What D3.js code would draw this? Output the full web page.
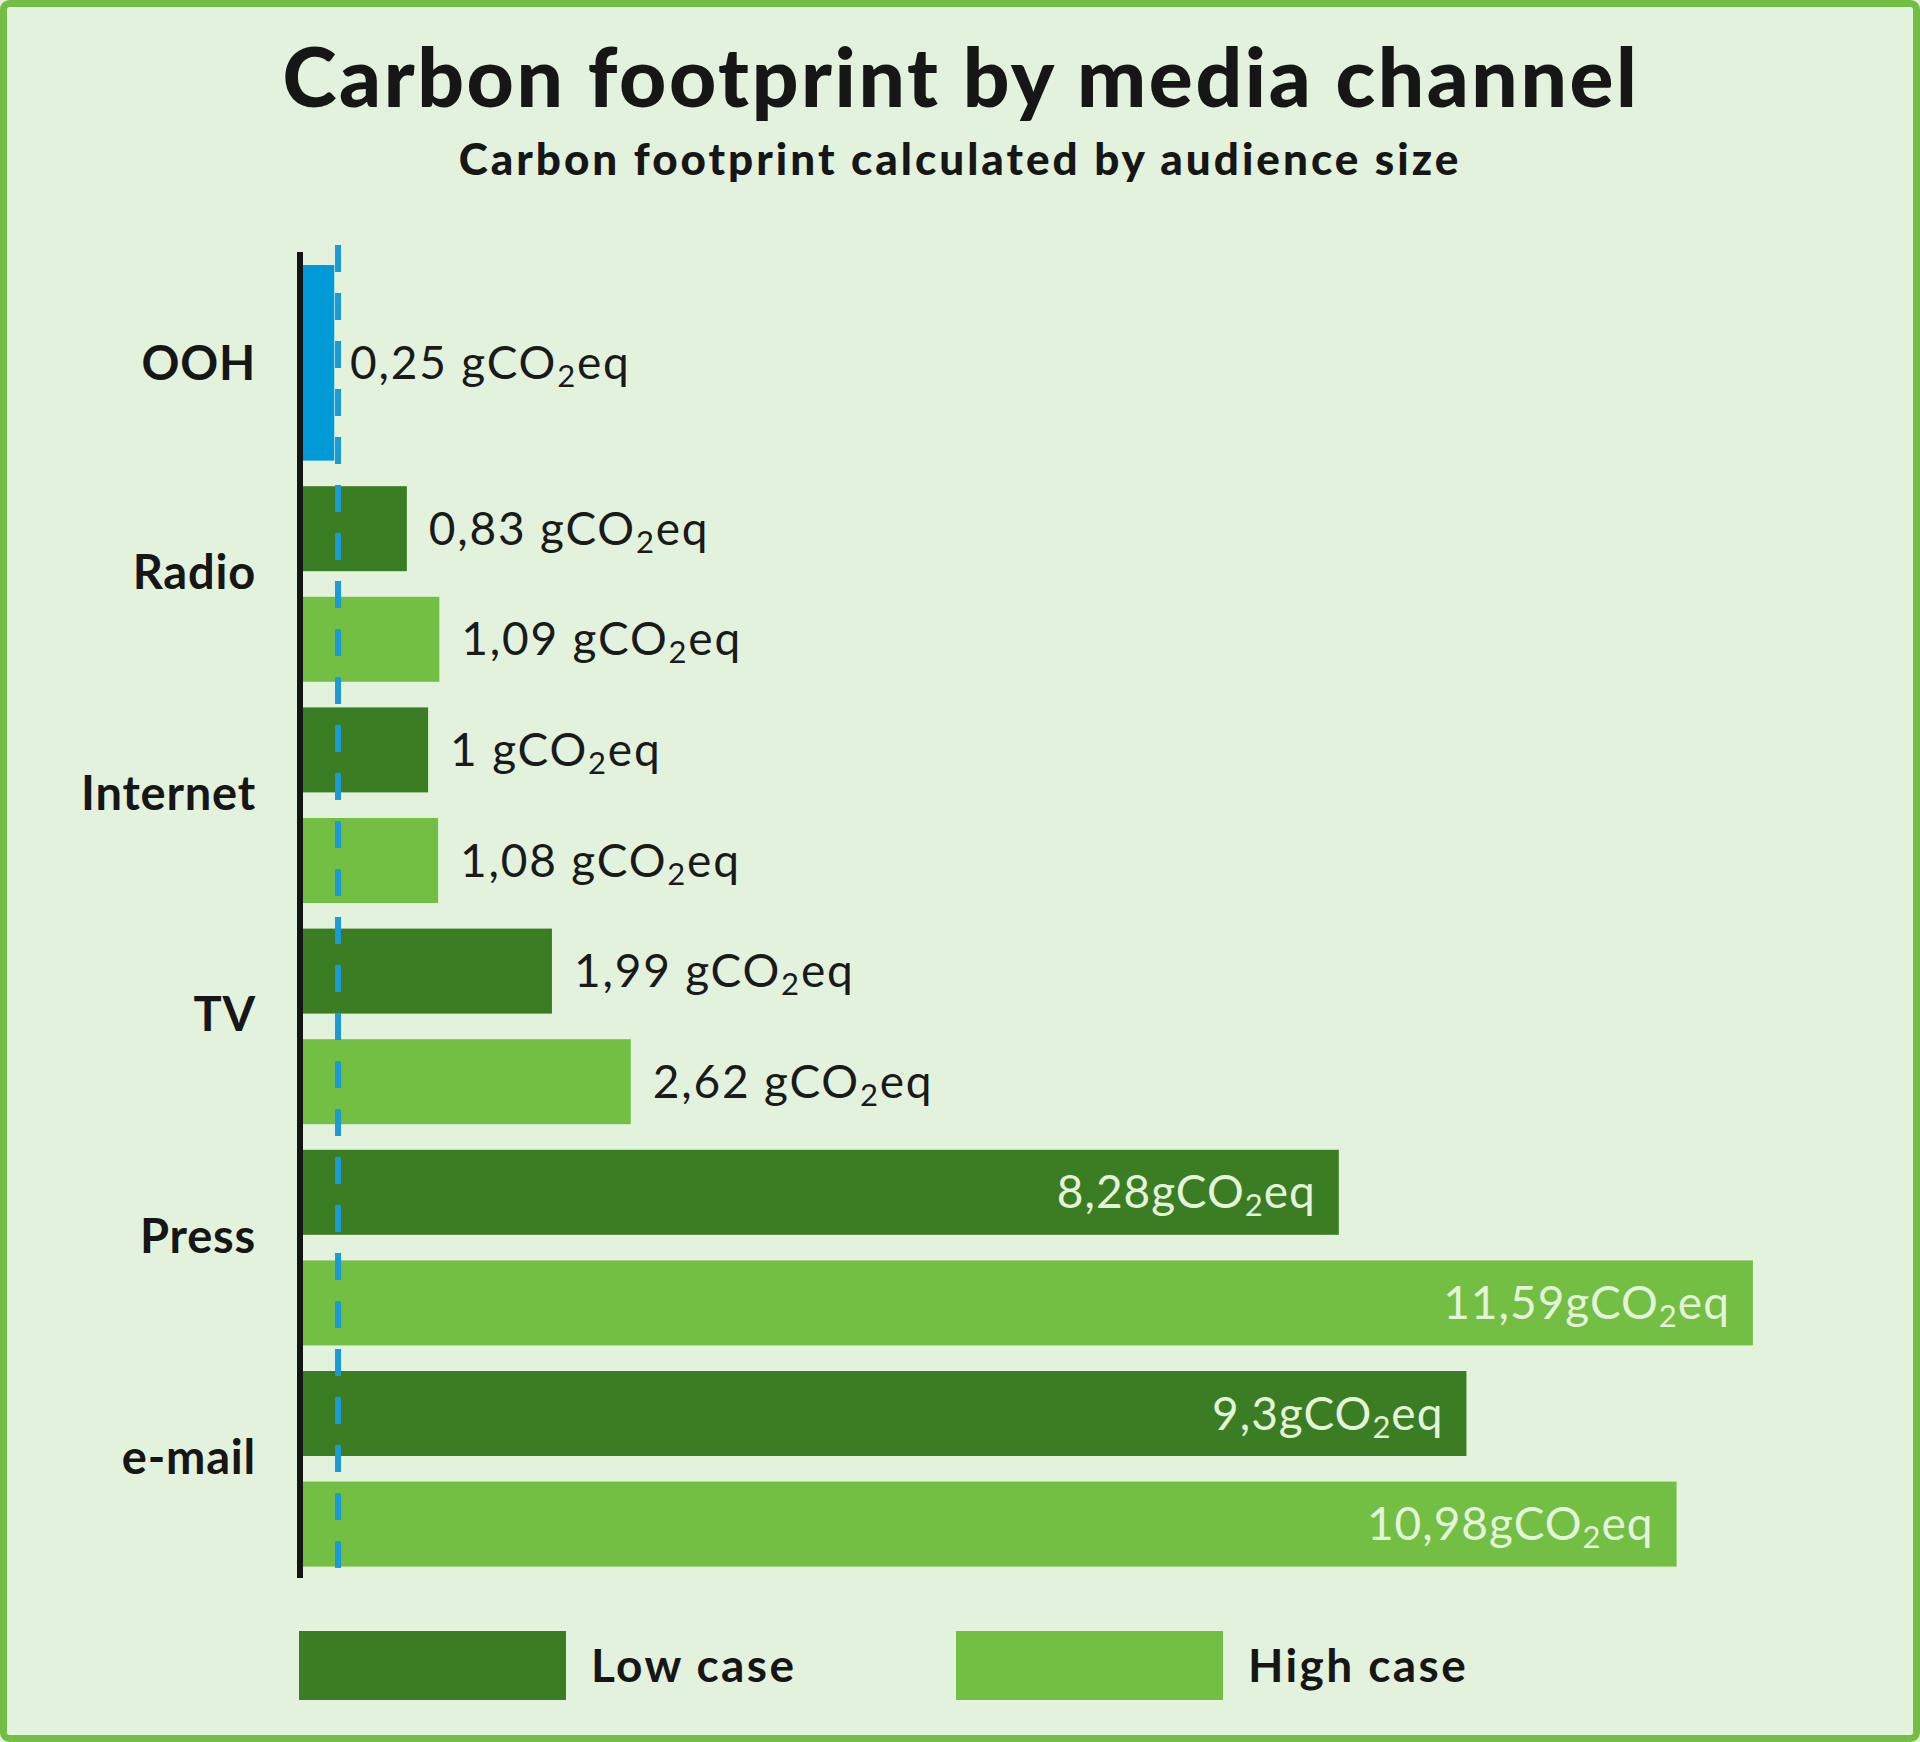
<!DOCTYPE html>
<html>
<head>
<meta charset="utf-8">
<script src="https://cdn.jsdelivr.net/npm/d3@7"></script>
<style>
  html, body { margin: 0; padding: 0; background: #e3f2dc; }
  svg { display: block; font-family: Lato, "Open Sans", sans-serif; }
</style>
</head>
<body>
<svg id="chart" width="1920" height="1742"></svg>
<script>
// channels top to bottom, OOH only has one value
const channels = ['OOH', 'Radio', 'Internet', 'TV', 'Press', 'e-mail'];
const lowCase  = [0.25, 0.83, 1, 1.99, 8.28, 9.3];
const highCase = [null, 1.09, 1.08, 2.62, 11.59, 10.98];
const lowLabels  = ['0,25', '0,83', '1', '1,99', '8,28', '9,3'];
const highLabels = [null, '1,09', '1,08', '2,62', '11,59', '10,98'];
const seriesNames = ['Low case', 'High case'];
const refValue = 0.28; // dashed OOH reference line

const colors = { low: '#3b7d23', high: '#72bf44', ooh: '#009ad8', ref: '#1a9ad6' };

const W = 1920, H = 1742;
const svg = d3.select('#chart');

// background + frame
svg.append('rect')
  .attr('x', 3.5).attr('y', 3.5)
  .attr('width', W - 7).attr('height', H - 7)
  .attr('rx', 6)
  .attr('fill', '#e3f2dc')
  .attr('stroke', '#74be44')
  .attr('stroke-width', 7);

svg.append('text')
  .attr('x', 961).attr('y', 107)
  .attr('text-anchor', 'middle')
  .attr('font-size', 82).attr('font-weight', 900)
  .attr('letter-spacing', 2.6)
  .attr('fill', '#161616')
  .text('Carbon footprint by media channel');

svg.append('text')
  .attr('x', 960).attr('y', 175)
  .attr('text-anchor', 'middle')
  .attr('font-size', 44).attr('font-weight', 900)
  .attr('letter-spacing', 3)
  .attr('fill', '#161616')
  .text('Carbon footprint calculated by audience size');

// scales
const x = d3.scaleLinear().domain([0, 12]).range([303, 303 + 12 * 125.1]);
const y = d3.scaleBand().domain(channels).range([265, 265 + 6 * 221.2]);
const sub = d3.scaleBand().domain(['low', 'high'])
  .range([0, 195.6]).paddingInner(25.6 / 110.6).paddingOuter(0);

const rows = [];
channels.forEach((c, i) => {
  if (highCase[i] == null) {
    rows.push({ channel: c, kind: 'ooh', value: lowCase[i], label: lowLabels[i] });
  } else {
    rows.push({ channel: c, kind: 'low', value: lowCase[i], label: lowLabels[i] });
    rows.push({ channel: c, kind: 'high', value: highCase[i], label: highLabels[i] });
  }
});

const barY = d => d.kind === 'ooh' ? y(d.channel) : y(d.channel) + sub(d.kind);
const barH = d => d.kind === 'ooh' ? sub.range()[1] : sub.bandwidth();

svg.append('g').selectAll('rect').data(rows).join('rect')
  .attr('x', x(0))
  .attr('y', barY)
  .attr('width', d => x(d.value) - x(0))
  .attr('height', barH)
  .attr('fill', d => colors[d.kind]);

// axis line
svg.append('line')
  .attr('x1', 300).attr('x2', 300)
  .attr('y1', 252).attr('y2', 1578)
  .attr('stroke', '#141414').attr('stroke-width', 6);

// dashed reference line
svg.append('line')
  .attr('x1', x(refValue)).attr('x2', x(refValue))
  .attr('y1', 245).attr('y2', 1586)
  .attr('stroke', colors.ref).attr('stroke-width', 6)
  .attr('stroke-dasharray', '27 21');

// category labels
svg.append('g').selectAll('text').data(channels).join('text')
  .attr('x', 256)
  .attr('y', (d, i) => y(d) + sub.range()[1] / 2 - (i === 0 ? 0 : 12) + 17)
  .attr('text-anchor', 'end')
  .attr('font-size', 47).attr('font-weight', 700)
  .attr('letter-spacing', 0.8)
  .attr('fill', '#161616')
  .text(d => d);

// value labels
const inside = d => d.value > 5;
const vl = svg.append('g').selectAll('text').data(rows).join('text')
  .attr('x', d => {
    if (inside(d)) return x(d.value) - 23;
    if (d.value < refValue) return x(refValue) + 12;
    return x(d.value) + 22;
  })
  .attr('y', d => barY(d) + barH(d) / 2 + 16)
  .attr('text-anchor', d => inside(d) ? 'end' : 'start')
  .attr('font-size', 46)
  .attr('letter-spacing', d => inside(d) ? 1 : 1.8)
  .attr('fill', d => inside(d) ? '#e4f3da' : '#1a1a1a');

vl.append('tspan').text(d => d.label + (inside(d) ? 'gCO' : ' gCO'));
vl.append('tspan').attr('font-size', 31).attr('dy', 8).text('2');
vl.append('tspan').attr('dy', -8).text('eq');

// legend
const lx = d3.scaleBand().domain(seriesNames).range([299, 299 + 2 * 657]);
const lg = svg.append('g').selectAll('g').data(seriesNames).join('g')
  .attr('transform', d => `translate(${lx(d)},1631)`);
lg.append('rect')
  .attr('width', 267).attr('height', 69)
  .attr('fill', (d, i) => i === 0 ? colors.low : colors.high);
lg.append('text')
  .attr('x', 292).attr('y', 51)
  .attr('font-size', 46).attr('font-weight', 700)
  .attr('letter-spacing', 2.4)
  .attr('fill', '#161616')
  .text(d => d);
</script>
</body>
</html>
